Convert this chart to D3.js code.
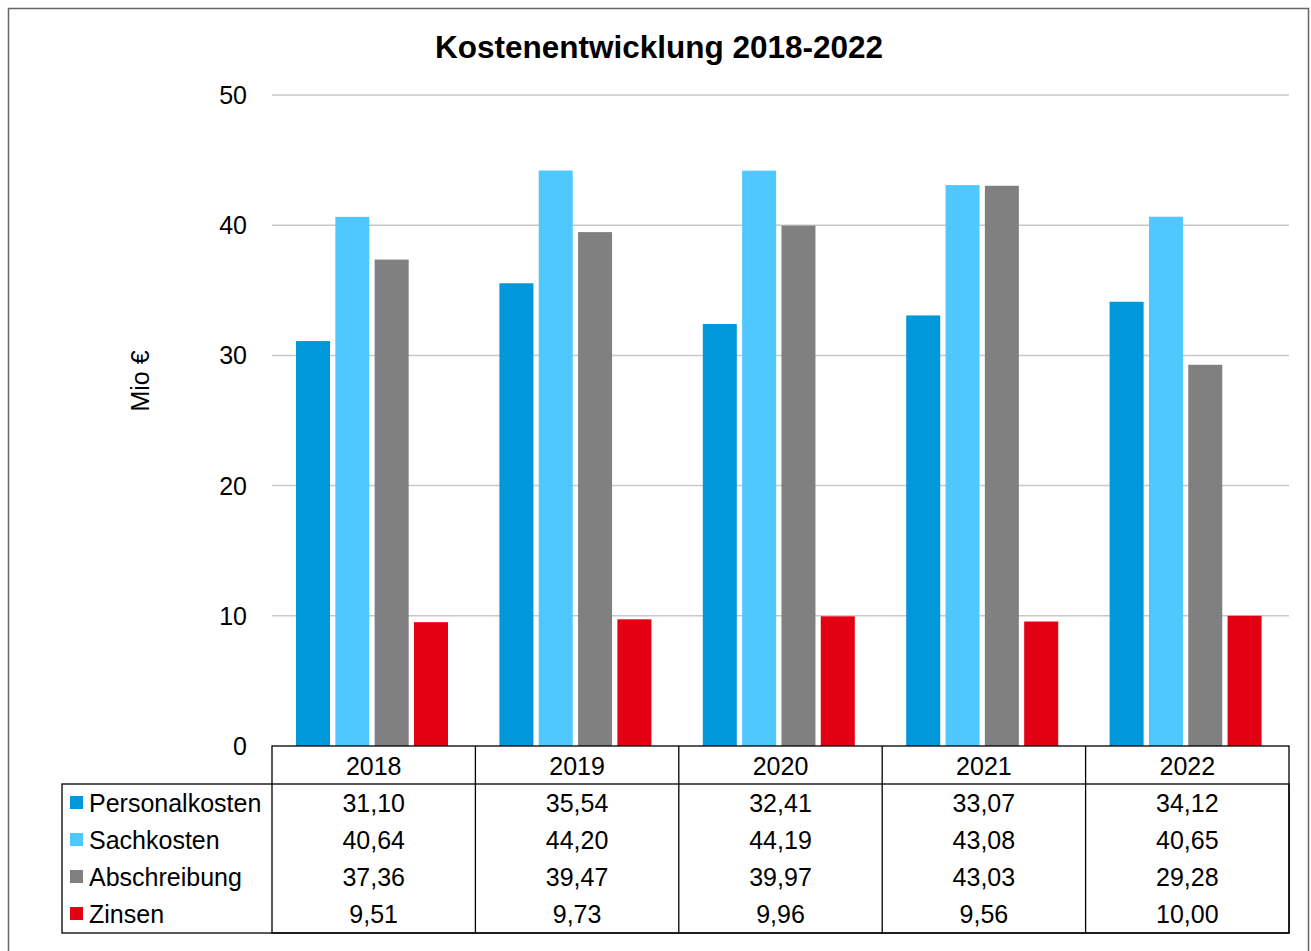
<html>
<head>
    <title>Kostenentwicklung 2018-2022</title>
    <style>
        body { margin: 0; background: #fff; }
        svg text { font-family: "Liberation Sans", Arial, sans-serif; fill: #000; }
    </style>
    <script src="https://d3js.org/d3.v7.min.js"></script>
</head>
<body>
<svg id="chart" width="1311" height="951"></svg>
<script>
    const years = ["2018", "2019", "2020", "2021", "2022"];
    const seriesNames = ["Personalkosten", "Sachkosten", "Abschreibung", "Zinsen"];
    const personalkosten = [31.10, 35.54, 32.41, 33.07, 34.12];
    const sachkosten = [40.64, 44.20, 44.19, 43.08, 40.65];
    const abschreibung = [37.36, 39.47, 39.97, 43.03, 29.28];
    const zinsen = [9.51, 9.73, 9.96, 9.56, 10.00];
    const yTicks = [0, 10, 20, 30, 40, 50];

    const seriesValues = [personalkosten, sachkosten, abschreibung, zinsen];
    const colors = ["#0098da", "#4fc8ff", "#808080", "#e30013"];

    const svg = d3.select("#chart");

    // outer frame
    svg.append("rect")
        .attr("x", 8.5).attr("y", 8.5)
        .attr("width", 1300).attr("height", 960)
        .attr("fill", "none").attr("stroke", "#666").attr("stroke-width", 1.5);

    const plotLeft = 272, plotRight = 1289, plotTop = 95, plotBottom = 746;

    const x = d3.scaleBand().domain(years).range([plotLeft, plotRight]);
    const x1 = d3.scaleBand().domain(seriesNames).range([24, 176]).paddingInner(0.135);
    const y = d3.scaleLinear().domain([0, 50]).range([plotBottom, plotTop]);

    // gridlines
    svg.append("g")
        .selectAll("line")
        .data(yTicks.filter(d => d > 0))
        .enter().append("line")
        .attr("x1", plotLeft).attr("x2", plotRight)
        .attr("y1", d => y(d)).attr("y2", d => y(d))
        .attr("stroke", "#c8c8c8").attr("stroke-width", 1.5);

    // y tick labels
    svg.append("g")
        .selectAll("text")
        .data(yTicks)
        .enter().append("text")
        .attr("x", 247)
        .attr("y", d => y(d) + 9)
        .attr("text-anchor", "end")
        .style("font-size", "25px")
        .text(d => d);

    // bars
    seriesNames.forEach((name, si) => {
        svg.append("g")
            .selectAll("rect")
            .data(seriesValues[si])
            .enter().append("rect")
            .attr("x", (d, i) => x(years[i]) + x1(name))
            .attr("width", x1.bandwidth())
            .attr("y", d => y(d))
            .attr("height", d => y(0) - y(d))
            .attr("fill", colors[si]);
    });

    // title
    svg.append("text")
        .attr("x", 659).attr("y", 58)
        .attr("text-anchor", "middle")
        .style("font-size", "31.5px")
        .style("font-weight", "bold")
        .text("Kostenentwicklung 2018-2022");

    // y axis title
    svg.append("text")
        .attr("transform", "translate(149, 381) rotate(-90)")
        .attr("text-anchor", "middle")
        .style("font-size", "25px")
        .text("Mio €");

    // data table
    const headerBottom = 784, tableBottom = 933, legendLeft = 62;
    const rowH = 37;
    const table = svg.append("g")
        .attr("fill", "none").attr("stroke", "#000").attr("stroke-width", 1.3);

    table.append("rect")
        .attr("x", plotLeft).attr("y", plotBottom)
        .attr("width", plotRight - plotLeft).attr("height", tableBottom - plotBottom);
    table.append("rect")
        .attr("x", legendLeft).attr("y", headerBottom)
        .attr("width", plotRight - legendLeft).attr("height", tableBottom - headerBottom);
    table.selectAll("line")
        .data(years.slice(1))
        .enter().append("line")
        .attr("x1", d => x(d)).attr("x2", d => x(d))
        .attr("y1", plotBottom).attr("y2", tableBottom);

    // header labels
    svg.append("g")
        .selectAll("text")
        .data(years)
        .enter().append("text")
        .attr("x", d => x(d) + x.bandwidth() / 2)
        .attr("y", 775)
        .attr("text-anchor", "middle")
        .style("font-size", "25px")
        .text(d => d);

    const fmt = v => v.toFixed(2).replace(".", ",");

    seriesNames.forEach((name, si) => {
        const cy = 803 + si * rowH;
        svg.append("rect")
            .attr("x", 70).attr("y", cy - 7)
            .attr("width", 13).attr("height", 13)
            .attr("fill", colors[si]);
        svg.append("text")
            .attr("x", 89).attr("y", cy + 9)
            .style("font-size", "25px")
            .text(name);
        svg.append("g")
            .selectAll("text")
            .data(seriesValues[si])
            .enter().append("text")
            .attr("x", (d, i) => x(years[i]) + x.bandwidth() / 2)
            .attr("y", cy + 9)
            .attr("text-anchor", "middle")
            .style("font-size", "25px")
            .text(d => fmt(d));
    });
</script>
</body>
</html>
